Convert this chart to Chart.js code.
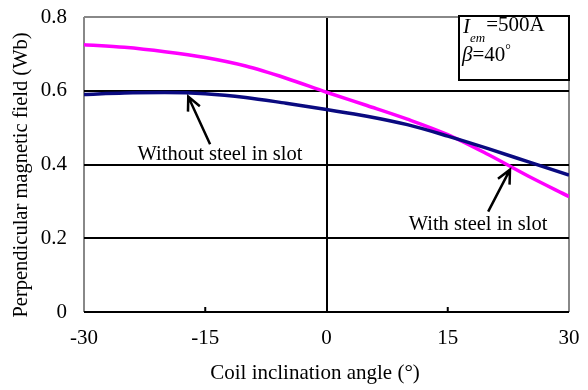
<!DOCTYPE html>
<html lang="en">
<head>
    <meta charset="UTF-8">
    <title>Perpendicular magnetic field vs coil inclination</title>
    <script src="https://cdn.jsdelivr.net/npm/chart.js"></script>
    <style>
        body {
            margin: 0;
            background: #fff;
        }
        #chart {
            display: block;
        }
    </style>
</head>
<body>
    <canvas id="chart" width="588" height="390"></canvas>
    <script>
        // Coil inclination angle (deg)
        const angles = [-30, -25, -20, -15, -10, -5, 0, 5, 10, 15, 20, 25, 30];
        // Perpendicular magnetic field (Wb)
        const withoutSteel = [0.590, 0.594, 0.595, 0.592, 0.582, 0.566, 0.549, 0.531, 0.508, 0.477, 0.443, 0.407, 0.371];
        const withSteel = [0.725, 0.718, 0.706, 0.690, 0.667, 0.634, 0.596, 0.560, 0.523, 0.481, 0.427, 0.368, 0.313];
        const xTicks = [-30, -15, 0, 15, 30];
        const yTicks = [0, 0.2, 0.4, 0.6, 0.8];

        const serif = "'Liberation Serif', 'Times New Roman', serif";

        // Axis titles, arrows, labels and the parameter box
        const extras = {
            id: 'extras',
            afterDraw(chart) {
                const ctx = chart.ctx;
                const xs = chart.scales.x, ys = chart.scales.y;
                const area = chart.chartArea;
                ctx.save();

                // small inward tick marks on the bottom axis
                ctx.strokeStyle = '#000';
                ctx.lineWidth = 2;
                [-15, 15].forEach(v => {
                    const px = xs.getPixelForValue(v);
                    ctx.beginPath();
                    ctx.moveTo(px, area.bottom);
                    ctx.lineTo(px, area.bottom - 5);
                    ctx.stroke();
                });

                // axis titles
                ctx.fillStyle = '#000';
                ctx.textAlign = 'center';
                ctx.textBaseline = 'middle';
                ctx.font = '21px ' + serif;
                ctx.fillText('Coil inclination angle (°)', 315, 373);
                ctx.save();
                ctx.translate(22, 175);
                ctx.rotate(-Math.PI / 2);
                ctx.font = '20.5px ' + serif;
                ctx.fillText('Perpendicular magnetic field (Wb)', 0, 0);
                ctx.restore();

                // arrows pointing at the curves
                function arrow(x0, y0, x1, y1) {
                    const ax = xs.getPixelForValue(x0), ay = ys.getPixelForValue(y0);
                    const bx = xs.getPixelForValue(x1), by = ys.getPixelForValue(y1);
                    const ang = Math.atan2(by - ay, bx - ax);
                    const len = 15, spread = 0.45;
                    ctx.lineWidth = 2.5;
                    ctx.beginPath();
                    ctx.moveTo(ax, ay);
                    ctx.lineTo(bx, by);
                    ctx.moveTo(bx - len * Math.cos(ang - spread), by - len * Math.sin(ang - spread));
                    ctx.lineTo(bx, by);
                    ctx.lineTo(bx - len * Math.cos(ang + spread), by - len * Math.sin(ang + spread));
                    ctx.stroke();
                }
                arrow(-14.4, 0.455, -17.1, 0.584);
                arrow(20.0, 0.272, 22.7, 0.386);

                ctx.font = '20.5px ' + serif;
                ctx.textBaseline = 'alphabetic';
                ctx.fillText('Without steel in slot', 220, 160);
                ctx.fillText('With steel in slot', 478, 230);

                // parameter box
                ctx.lineWidth = 2;
                ctx.strokeStyle = '#000';
                ctx.fillStyle = '#fff';
                ctx.fillRect(459, 16, 110, 64);
                ctx.strokeRect(459, 16, 110, 64);
                ctx.fillStyle = '#000';
                ctx.textAlign = 'left';
                let x = 463;
                ctx.font = 'italic 21px ' + serif;
                ctx.fillText('I', x, 33);
                x += ctx.measureText('I').width;
                ctx.font = 'italic 13px ' + serif;
                ctx.fillText('em', x, 42);
                x += ctx.measureText('em').width + 1;
                ctx.font = '21px ' + serif;
                ctx.fillText('=500A', x, 31);

                x = 462;
                ctx.font = 'italic 21px ' + serif;
                ctx.fillText('β', x, 61);
                x += ctx.measureText('β').width;
                ctx.font = '21px ' + serif;
                ctx.fillText('=40', x, 61);
                x += ctx.measureText('=40').width;
                ctx.font = '14px ' + serif;
                ctx.fillText('°', x, 54);

                ctx.restore();
            }
        };

        new Chart(document.getElementById('chart'), {
            type: 'line',
            data: {
                datasets: [
                    {
                        label: 'Without steel in slot',
                        data: angles.map((a, i) => ({ x: a, y: withoutSteel[i] })),
                        borderColor: '#0a0a80',
                        borderWidth: 3.5,
                        pointRadius: 0,
                        cubicInterpolationMode: 'monotone'
                    },
                    {
                        label: 'With steel in slot',
                        data: angles.map((a, i) => ({ x: a, y: withSteel[i] })),
                        borderColor: '#ff00ff',
                        borderWidth: 3.5,
                        pointRadius: 0,
                        cubicInterpolationMode: 'monotone'
                    }
                ]
            },
            options: {
                responsive: false,
                animation: false,
                layout: { padding: { left: 0, top: 17, right: 19, bottom: 0 } },
                plugins: {
                    legend: { display: false },
                    tooltip: { enabled: false }
                },
                scales: {
                    x: {
                        type: 'linear',
                        min: -30,
                        max: 30,
                        afterBuildTicks: s => { s.ticks = xTicks.map(v => ({ value: v })); },
                        afterFit: s => {
                            s.height = 78;
                            s.paddingLeft = 0;
                            s.paddingRight = 0;
                        },
                        border: { display: false },
                        grid: {
                            drawTicks: false,
                            lineWidth: 2,
                            color: c => {
                                const v = c.tick && c.tick.value;
                                if (v === 0) return '#000';
                                if (v === -30 || v === 30) return '#888';
                                return 'rgba(0,0,0,0)';
                            }
                        },
                        ticks: {
                            padding: 14,
                            color: '#000',
                            font: { family: serif, size: 21 }
                        }
                    },
                    y: {
                        min: 0,
                        max: 0.8,
                        afterBuildTicks: s => { s.ticks = yTicks.map(v => ({ value: v })); },
                        afterFit: s => {
                            s.width = 84;
                            s.paddingTop = 0;
                            s.paddingBottom = 0;
                        },
                        border: { display: false },
                        grid: {
                            drawTicks: false,
                            lineWidth: 2,
                            color: c => (c.tick && c.tick.value === 0.8) ? '#888' : '#000'
                        },
                        ticks: {
                            padding: 17,
                            color: '#000',
                            font: { family: serif, size: 21 },
                            callback: v => v === 0 ? '0' : v.toFixed(1)
                        }
                    }
                }
            },
            plugins: [extras]
        });
    </script>
</body>
</html>
